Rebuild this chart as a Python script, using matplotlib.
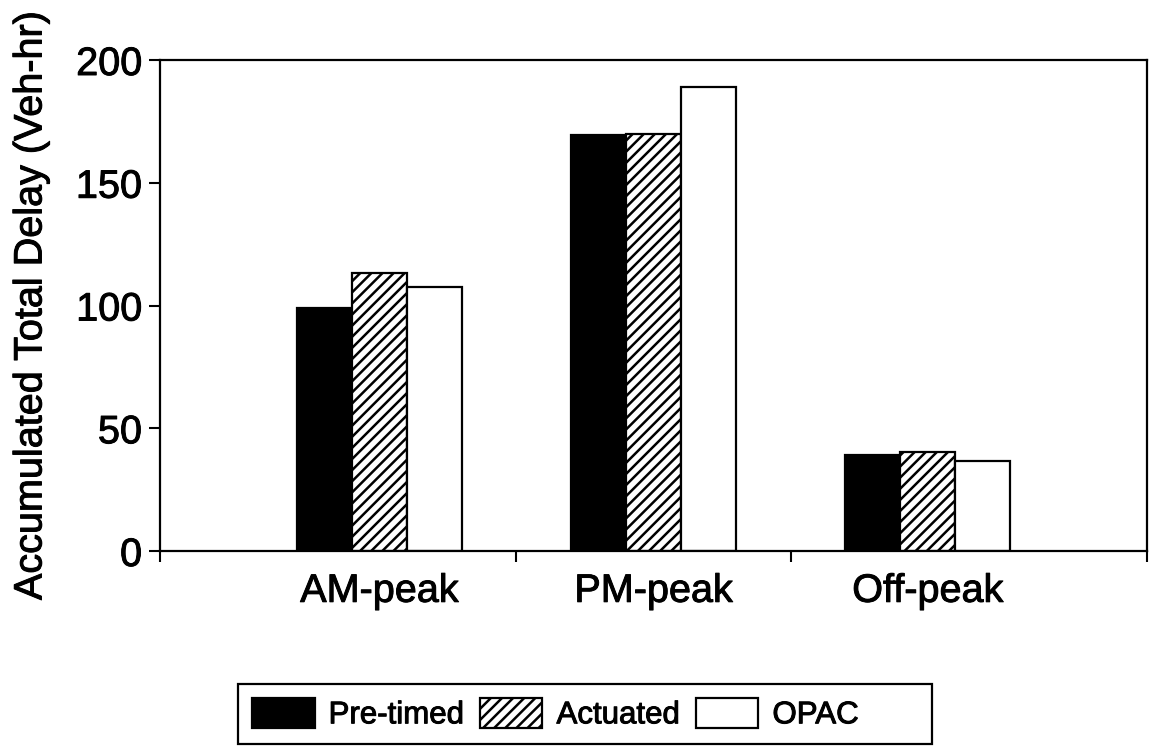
import matplotlib
matplotlib.use("Agg")
import matplotlib.pyplot as plt
import matplotlib.patheffects as pe
from matplotlib.patches import Rectangle
import numpy as np

plt.rcParams['font.family'] = ['Liberation Sans', 'DejaVu Sans']
plt.rcParams['hatch.linewidth'] = 1.8

# data
periods = ["AM-peak", "PM-peak", "Off-peak"]
pretimed = [98.8, 169.4, 39.1]
actuated = [113.2, 170.0, 40.5]
opac = [107.5, 189.0, 36.7]
series_names = ["Pre-timed", "Actuated", "OPAC"]
y_ticks = [0, 50, 100, 150, 200]

# scanned text looks a bit heavier
bold_ish = [pe.withStroke(linewidth=0.7, foreground='black')]

fig = plt.figure(figsize=(11.49, 7.5), dpi=100)
ax = fig.add_axes([160 / 1149, 1 - 551 / 750, 987 / 1149, 491 / 750])

x = np.arange(len(periods))
w = 0.2
ax.bar(x - w, pretimed, w, color='black', edgecolor='black', linewidth=1.6,
       label=series_names[0])
ax.bar(x, actuated, w, color='white', edgecolor='black', linewidth=1.6,
       hatch='///', label=series_names[1])
ax.bar(x + w, opac, w, color='white', edgecolor='black', linewidth=1.6,
       label=series_names[2])

ax.set_xlim(-0.8, 2.8)
ax.set_ylim(0, 200)

# group separators as major ticks, names as minor ticks without marks
ax.set_xticks([-0.8, 0.5, 1.5, 2.8])
ax.set_xticklabels([])
ax.set_xticks(x, minor=True)
ax.set_xticklabels(periods, minor=True, fontsize=28.5)
ax.tick_params(axis='x', which='major', direction='out', length=8, width=1.5)
ax.tick_params(axis='x', which='minor', length=0, pad=15)

ax.set_yticks(y_ticks)
ax.set_yticklabels([str(v) for v in y_ticks], fontsize=28.5)
ax.tick_params(axis='y', direction='out', length=8, width=1.5, pad=5)

for s in ax.spines.values():
    s.set_linewidth(1.6)

ax.set_ylabel("Accumulated Total Delay (Veh-hr)", fontsize=28.5)
ax.yaxis.set_label_coords(-0.112, 0.5)

for t in ax.get_xticklabels(minor=True) + ax.get_yticklabels() + [ax.yaxis.label]:
    t.set_path_effects(bold_ish)

leg = fig.legend(loc='center left', bbox_to_anchor=(252 / 1149, 1 - 714 / 750),
                 ncol=3, fontsize=22.5, frameon=False,
                 handlelength=2.0, handleheight=1.1, handletextpad=0.45,
                 columnspacing=0.5, borderpad=0.0, borderaxespad=0.0)
for t in leg.get_texts():
    t.set_path_effects(bold_ish)

# legend box is wider than its entries in the original
fig.patches.append(Rectangle((238 / 1149, 1 - 744 / 750), 694 / 1149, 60 / 750,
                             transform=fig.transFigure, fill=False,
                             edgecolor='black', linewidth=1.6))

fig.savefig("out.png", dpi=100)
